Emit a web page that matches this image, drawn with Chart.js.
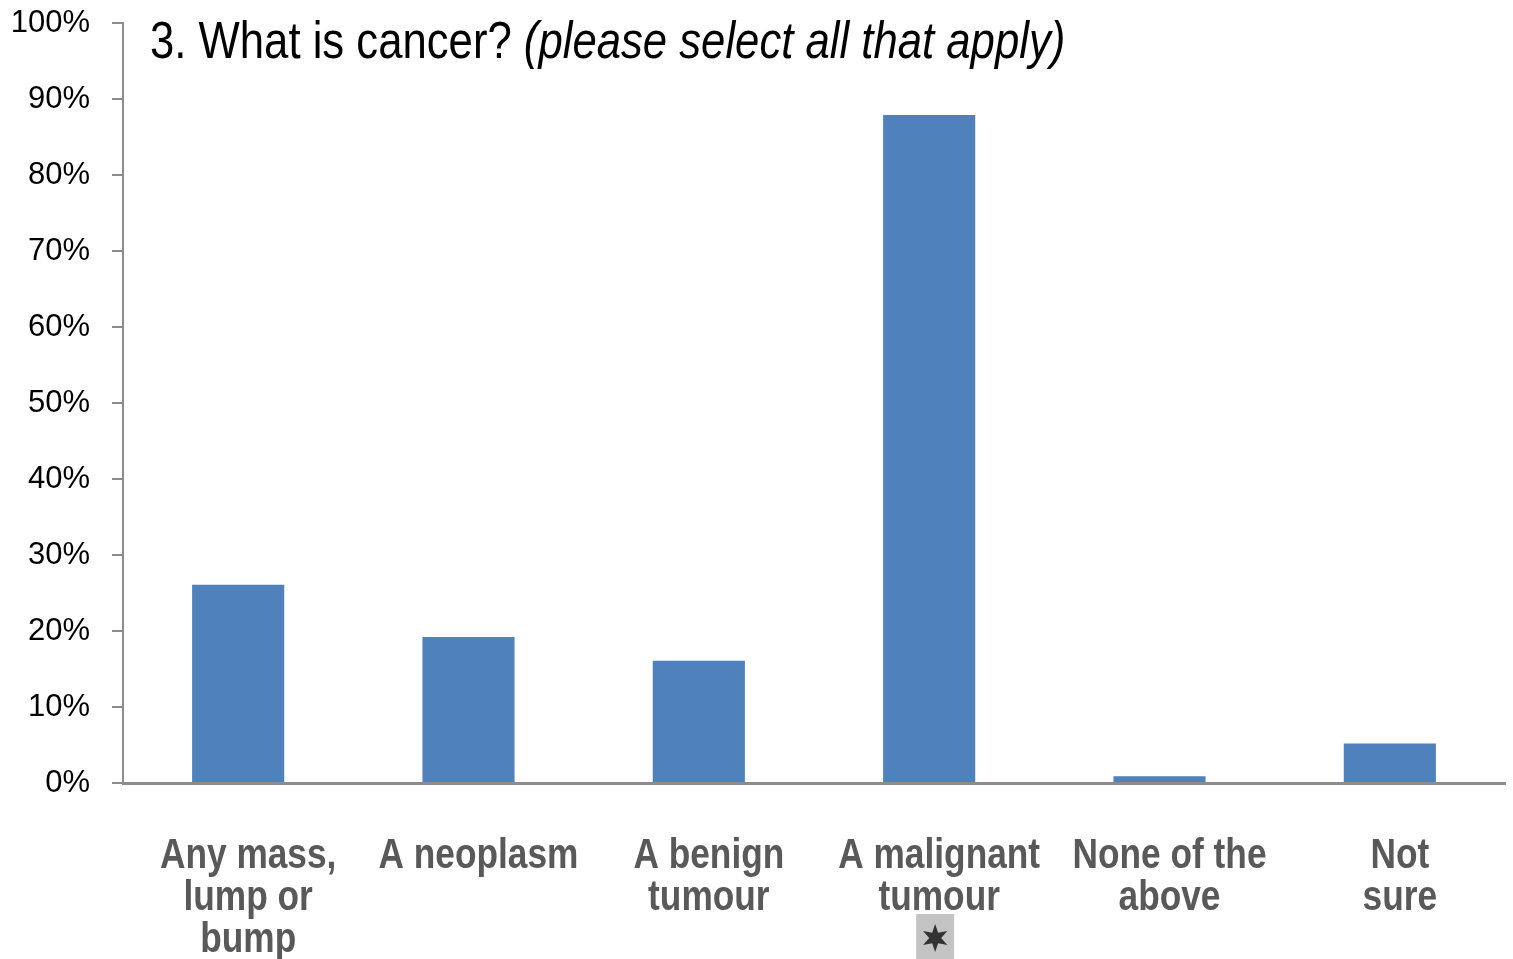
<!DOCTYPE html>
<html>
<head>
<meta charset="utf-8">
<script src="https://cdn.jsdelivr.net/npm/chart.js@4.4.1/dist/chart.umd.min.js"></script>
<style>
  html, body { margin: 0; padding: 0; background: #fff; }
  #wrap { width: 1513px; height: 959px; }
</style>
</head>
<body>
<div id="wrap"><canvas id="cancerChart" width="1513" height="959"></canvas></div>
<script>
const categories = [
    ["Any mass,", "lump or", "bump"],
    ["A neoplasm"],
    ["A benign", "tumour"],
    ["A malignant", "tumour"],
    ["None of the", "above"],
    ["Not", "sure"],
];

const responses = [26.1, 19.2, 16.1, 87.9, 0.9, 5.2];

const correctAnswer = 3; // index of the starred answer

const sans = "'Liberation Sans', Arial, sans-serif";
const axisGray = "#8c8c8c";

// text squeezed horizontally to mimic a narrow face
function narrowText(ctx, text, x, y, squeeze) {
    ctx.save();
    ctx.translate(x, y);
    ctx.scale(squeeze, 1);
    ctx.fillText(text, 0, 0);
    ctx.restore();
}

// title drawn over the plot, with the italic hint after the question
const titlePlugin = {
    id: "questionTitle",
    afterDraw(chart) {
        const ctx = chart.ctx;
        const sq = 0.84;
        ctx.save();
        ctx.fillStyle = "#000";
        ctx.textBaseline = "alphabetic";
        ctx.textAlign = "left";
        ctx.font = "52px " + sans;
        const first = "3. What is cancer? ";
        narrowText(ctx, first, 150, 58, sq);
        const w = ctx.measureText(first).width * sq;
        ctx.font = "italic 52px " + sans;
        narrowText(ctx, "(please select all that apply)", 150 + w, 58, sq);
        ctx.restore();
    },
};

// category labels under each bar, placed from the x scale
const categoryLabels = {
    id: "categoryLabels",
    afterDraw(chart) {
        const ctx = chart.ctx;
        const xs = chart.scales.x;
        ctx.save();
        ctx.fillStyle = "#595959";
        ctx.textAlign = "center";
        ctx.textBaseline = "alphabetic";
        ctx.font = "bold 42px " + sans;
        chart.data.labels.forEach((lines, i) => {
            const cx = xs.getPixelForValue(i) + 10;
            lines.forEach((line, j) => {
                narrowText(ctx, line, cx, 868 + j * 42, 0.84);
            });
        });
        ctx.restore();
    },
};

// star badge under the correct answer
const starPlugin = {
    id: "starBadge",
    afterDraw(chart) {
        const ctx = chart.ctx;
        const cx = chart.scales.x.getPixelForValue(correctAnswer) + 6;
        const cy = 938;
        ctx.save();
        ctx.fillStyle = "#c3c3c3";
        ctx.fillRect(cx - 19, 914, 38, 46);
        ctx.fillStyle = "#333";
        ctx.beginPath();
        const outer = 14, inner = 6;
        for (let i = 0; i < 12; i++) {
            const r = i % 2 === 0 ? outer : inner;
            const a = -Math.PI / 2 + i * Math.PI / 6;
            const px = cx + r * Math.cos(a);
            const py = cy + r * Math.sin(a);
            if (i === 0) ctx.moveTo(px, py); else ctx.lineTo(px, py);
        }
        ctx.closePath();
        ctx.fill();
        ctx.restore();
    },
};

const cancerChart = new Chart("cancerChart", {
    type: "bar",
    data: {
        labels: categories,
        datasets: [
            {
                label: "Respondents",
                data: responses,
                backgroundColor: "#4f81bd",
                borderWidth: 0,
                categoryPercentage: 1,
                barPercentage: 0.4,
            },
        ],
    },
    options: {
        responsive: false,
        animation: false,
        layout: { padding: { top: 23, right: 8, left: 0, bottom: 0 } },
        plugins: {
            legend: { display: false },
            tooltip: { enabled: false },
        },
        scales: {
            x: {
                grid: { display: false, drawTicks: false },
                border: { display: true, color: axisGray, width: 3 },
                ticks: { display: false },
                afterFit(scale) {
                    scale.height = 176;
                    scale.paddingLeft = 0;
                    scale.paddingRight = 0;
                },
            },
            y: {
                min: 0,
                max: 100,
                grid: { drawOnChartArea: false, color: axisGray, tickLength: 11, lineWidth: 2 },
                border: { display: true, color: axisGray, width: 2 },
                ticks: {
                    stepSize: 10,
                    padding: 22,
                    color: "#000",
                    font: { family: sans, size: 31 },
                    callback: (v) => v + "%",
                },
                afterFit(scale) {
                    scale.width = 123;
                    scale.paddingTop = 0;
                    scale.paddingBottom = 0;
                },
            },
        },
    },
    plugins: [titlePlugin, categoryLabels, starPlugin],
});
</script>
</body>
</html>
